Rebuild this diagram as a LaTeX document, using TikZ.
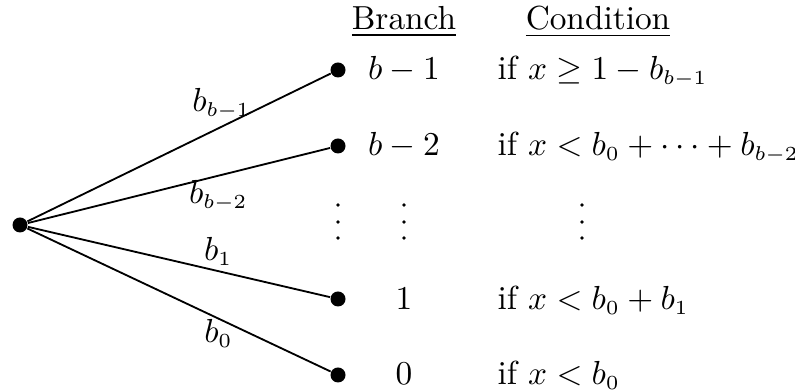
\documentclass[tikz,border=0pt]{standalone}
\usepackage{amsmath}
\usepackage{amssymb}
\usepackage{tikz}
\usetikzlibrary{positioning}

\DeclareMathSizes{10}{10}{6.5}{5}

\begin{document}
\begin{tikzpicture}[
			x=0.3pt, y=-0.3pt,
			leaf/.style={circle, fill, inner sep=0pt, minimum size=4.5pt},
			branch/.style={line width=0.55pt},
			brtext/.style={anchor=base, inner sep=0pt},
			condtext/.style={anchor=base west, inner sep=0pt},
			head/.style={anchor=base, inner sep=0pt},
			weight/.style={inner sep=0pt},
			vdot/.style={circle, fill, inner sep=0pt, minimum size=1.1pt}
			]
			\useasboundingbox (0,0) rectangle (795,390);
			\node[head] (hbranch) at (404,30) {\underline{Branch}};
			\node[head] (hcond) at (598,30) {\underline{Condition}};
			
			\node[leaf] (root) at (20,225) {};
			\node[leaf] (top) at (338,70) {};
			\node[leaf] (next) at (338,146) {};
			\node[leaf] (one) at (338,299) {};
			\node[leaf] (zero) at (338,375) {};
			
			\draw[branch] (root) -- node[pos=0.64, above=2pt, weight] {$b_{b-1}$} (top);
			\draw[branch] (root) -- node[pos=0.63, below=1pt, weight] {$b_{b-2}$} (next);
			\draw[branch] (root) -- node[pos=0.63, above=1.5pt, weight] {$b_1$} (one);
			\draw[branch] (root) -- node[pos=0.63, below=0pt, weight] {$b_0$} (zero);
			
			\node[brtext] (btop) at (404,80) {$b-1$};
			\node[brtext] (bnext) at (404,156) {$b-2$};
			\node[brtext] (bone) at (404,310) {$1$};
			\node[brtext] (bzero) at (404,385) {$0$};
			
			\node[condtext] (ctop) at (497,80) {if $x\geq 1-b_{b-1}$};
			\node[condtext] (cnext) at (497,156) {if $x<b_0+\cdots+b_{b-2}$};
			\node[condtext] (cone) at (497,310) {if $x<b_0+b_1$};
			\node[condtext] (czero) at (497,385) {if $x<b_0$};
			
			% vertical dots in the three columns
			\foreach \cx in {338,404,582}
				\foreach \cy in {205,222,238}
					\node[vdot] at (\cx,\cy) {};
		\end{tikzpicture}
\end{document}
